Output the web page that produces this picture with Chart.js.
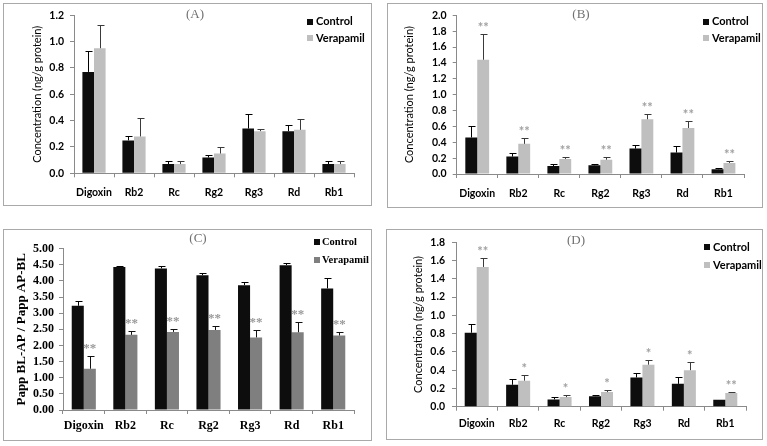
<!DOCTYPE html>
<html><head><meta charset="utf-8">
<script src="https://cdn.jsdelivr.net/npm/chart.js@4.4.1/dist/chart.umd.min.js"></script>
<style>
html,body{margin:0;padding:0;background:#fff;}
body{width:767px;height:446px;overflow:hidden;position:relative;}
.panel{position:absolute;border:1px solid #a9a9a9;box-sizing:border-box;}
.panel canvas{position:absolute;left:-1px;top:-1px;}
</style></head><body>
<div class="panel" style="left:3px;top:3px;width:369px;height:203px"><canvas id="cA" width="369" height="203"></canvas></div>
<div class="panel" style="left:387px;top:3px;width:376px;height:205px"><canvas id="cB" width="376" height="205"></canvas></div>
<div class="panel" style="left:3px;top:229px;width:369px;height:212px"><canvas id="cC" width="369" height="212"></canvas></div>
<div class="panel" style="left:386px;top:229px;width:377px;height:211px"><canvas id="cD" width="377" height="211"></canvas></div>
<script>
// ---------- data ----------
const categories = ['Digoxin','Rb2','Rc','Rg2','Rg3','Rd','Rb1'];
const seriesNames = ['Control','Verapamil'];

// (A)
const controlA      = [0.77, 0.25, 0.07, 0.12, 0.34, 0.32, 0.07];
const controlErrA   = [0.16, 0.03, 0.02, 0.02, 0.11, 0.05, 0.02];
const verapamilA    = [0.95, 0.28, 0.07, 0.15, 0.32, 0.33, 0.07];
const verapamilErrA = [0.18, 0.14, 0.02, 0.05, 0.02, 0.08, 0.02];
const starsA        = ['', '', '', '', '', '', ''];

// (B)
const controlB      = [0.46, 0.22, 0.10, 0.11, 0.32, 0.27, 0.06];
const controlErrB   = [0.15, 0.05, 0.02, 0.01, 0.05, 0.08, 0.01];
const verapamilB    = [1.44, 0.38, 0.19, 0.18, 0.69, 0.58, 0.14];
const verapamilErrB = [0.33, 0.07, 0.02, 0.03, 0.06, 0.09, 0.02];
const starsB        = ['**', '**', '**', '**', '**', '**', '**'];

// (C)
const controlC      = [3.23, 4.43, 4.39, 4.18, 3.87, 4.49, 3.77];
const controlErrC   = [0.14, 0.04, 0.08, 0.06, 0.11, 0.08, 0.32];
const verapamilC    = [1.28, 2.33, 2.42, 2.48, 2.25, 2.41, 2.31];
const verapamilErrC = [0.39, 0.11, 0.10, 0.13, 0.22, 0.33, 0.10];
const starsC        = ['**', '**', '**', '**', '**', '**', '**'];

// (D)
const controlD      = [0.81, 0.24, 0.08, 0.115, 0.32, 0.25, 0.075];
const controlErrD   = [0.10, 0.06, 0.025, 0.015, 0.05, 0.07, 0.0];
const verapamilD    = [1.53, 0.285, 0.105, 0.16, 0.46, 0.40, 0.15];
const verapamilErrD = [0.095, 0.065, 0.02, 0.02, 0.05, 0.085, 0.012];
const starsD        = ['**', '*', '*', '*', '*', '*', '**'];

// axis ranges / tick labels
const yAxisA = {max: 1.2, step: 0.2, decimals: 1, title: 'Concentration (ng/g protein)'};
const yAxisB = {max: 2.0, step: 0.2, decimals: 1, title: 'Concentration (ng/g protein)'};
const yAxisC = {max: 5.0, step: 0.5, decimals: 2, title: 'Papp BL-AP / Papp AP-BL'};
const yAxisD = {max: 1.8, step: 0.2, decimals: 1, title: 'Concentration (ng/g protein)'};
const panelTitles = ['(A)', '(B)', '(C)', '(D)'];

// ---------- drawing ----------
Chart.defaults.devicePixelRatio = 1;

const extrasPlugin = {
  id: 'extras',
  afterDatasetsDraw(chart) {
    const o = chart.options.plugins.extras;
    const ctx = chart.ctx, ys = chart.scales.y;
    ctx.save();
    chart.data.datasets.forEach((ds, i) => {
      const meta = chart.getDatasetMeta(i);
      meta.data.forEach((bar, j) => {
        const v = ds.data[j], e = ds.errors[j];
        const yt = Math.round(ys.getPixelForValue(v + e)) + 0.5;
        const x = Math.round(bar.x) + 0.5;
        if (e > 0) {
          ctx.strokeStyle = ds.errColor;
          ctx.lineWidth = 1;
          ctx.beginPath();
          ctx.moveTo(x, bar.y);
          ctx.lineTo(x, yt);
          ctx.moveTo(x - o.cap, yt);
          ctx.lineTo(x + o.cap + 1, yt);
          ctx.stroke();
        }
        if (ds.stars && ds.stars[j]) {
          ctx.fillStyle = o.starColor;
          ctx.font = o.starFont;
          ctx.textAlign = 'center';
          ctx.textBaseline = 'alphabetic';
          ctx.fillText(ds.stars[j], bar.x, yt - o.starGap);
        }
      });
    });
    ctx.restore();
  },
  afterDraw(chart) {
    const o = chart.options.plugins.extras;
    const ctx = chart.ctx;
    ctx.save();
    // panel title
    ctx.fillStyle = o.titleColor;
    ctx.font = o.titleFont;
    ctx.textAlign = 'center';
    ctx.textBaseline = 'middle';
    ctx.fillText(o.title, o.titleX, o.titleY);
    // legend
    ctx.font = o.legendFont;
    ctx.textAlign = 'left';
    chart.data.datasets.forEach((ds, i) => {
      const y = o.legendY + i * o.legendStep;
      ctx.fillStyle = ds.backgroundColor;
      ctx.fillRect(o.legendX, Math.round(y - o.legendBox / 2), o.legendBox, o.legendBox);
      ctx.fillStyle = '#000';
      ctx.fillText(ds.label, o.legendX + o.legendBox + o.legendGap, y);
    });
    ctx.restore();
  }
};

function makePanel(id, s, ctrl, ctrlErr, ver, verErr, stars, yAxis, title) {
  const canvas = document.getElementById(id);
  const W = canvas.width, H = canvas.height;
  const axisColor = '#8a8a8a';
  return new Chart(canvas, {
    type: 'bar',
    data: {
      labels: categories,
      datasets: [
        {label: seriesNames[0], data: ctrl, errors: ctrlErr, backgroundColor: s.ctrlColor,
         errColor: s.ctrlErrColor, barPercentage: 1.0, categoryPercentage: s.catPct},
        {label: seriesNames[1], data: ver, errors: verErr, stars: stars, backgroundColor: s.verColor,
         errColor: s.verErrColor, barPercentage: 1.0, categoryPercentage: s.catPct}
      ]
    },
    options: {
      responsive: false,
      animation: false,
      devicePixelRatio: 1,
      layout: {padding: {left: 0, top: s.T, right: W - s.R, bottom: 0}},
      plugins: {
        legend: {display: false},
        tooltip: {enabled: false},
        extras: {
          cap: 3, starColor: s.starColor, starFont: s.starFont, starGap: s.starGap,
          title: title, titleX: s.titleX, titleY: s.titleY, titleColor: '#707070', titleFont: s.titleFont,
          legendX: s.legX, legendY: s.legY, legendStep: s.legStep, legendBox: s.legBox, legendGap: s.legGap,
          legendFont: s.legendFont
        }
      },
      scales: {
        x: {
          afterFit: sc => { sc.height = H - s.B; },
          grid: {display: true, drawOnChartArea: false, drawTicks: true, tickLength: 4, color: axisColor, offset: true},
          border: {display: true, color: axisColor, width: 1},
          ticks: {color: '#000', font: s.tickFont, padding: s.xPad, maxRotation: 0, autoSkip: false}
        },
        y: {
          min: 0, max: yAxis.max,
          afterFit: sc => { sc.width = s.L; },
          grid: {display: true, drawOnChartArea: false, drawTicks: true, tickLength: 4, color: axisColor},
          border: {display: true, color: axisColor, width: 1},
          ticks: {stepSize: yAxis.step, autoSkip: false, color: '#000', font: s.tickFont, padding: s.yPad,
                  callback: v => Number(v).toFixed(yAxis.decimals)},
          title: {display: true, text: yAxis.title, color: '#000', font: s.yTitleFont,
                  padding: {top: s.yTitlePad, bottom: 0}}
        }
      }
    },
    plugins: [extrasPlugin]
  });
}

const sans = "Lato, 'Open Sans', sans-serif";
const serif = "'Liberation Serif', 'DejaVu Serif', serif";
const baseStyle = {
  ctrlColor: '#0d0d0d', verColor: '#bfbfbf', ctrlErrColor: '#000', verErrColor: '#3a3a3a',
  catPct: 0.58, starColor: '#a0a0a0', starFont: 'bold 13px ' + sans, starGap: 3,
  tickFont: {family: sans, size: 10.5, weight: 'bold'},
  yTitleFont: {family: sans, size: 11, weight: 'normal'},
  titleFont: '13px ' + serif,
  legendFont: 'bold 11px ' + sans, legBox: 6, legGap: 3, legStep: 16.6
};

makePanel('cA', Object.assign({}, baseStyle, {
  L: 71, T: 11, R: 351, B: 170.3, xPad: 9, yPad: 6, yTitlePad: 28,
  titleX: 192, titleY: 12, legX: 304, legY: 18.7
}), controlA, controlErrA, verapamilA, verapamilErrA, starsA, yAxisA, panelTitles[0]);

makePanel('cB', Object.assign({}, baseStyle, {
  L: 69.7, T: 11, R: 357, B: 171, xPad: 9, yPad: 6, yTitlePad: 16,
  titleX: 194, titleY: 12, legX: 316, legY: 18.7
}), controlB, controlErrB, verapamilB, verapamilErrB, starsB, yAxisB, panelTitles[1]);

makePanel('cC', Object.assign({}, baseStyle, {
  L: 60, T: 19.7, R: 351, B: 181, xPad: 5, yPad: 5, yTitlePad: 10.5,
  verColor: '#7f7f7f', verErrColor: '#111', starColor: '#999', starFont: 'bold 13px ' + serif, starGap: 5,
  tickFont: {family: serif, size: 12, weight: 'bold'},
  yTitleFont: {family: serif, size: 13, weight: 'bold'},
  legendFont: 'bold 10.5px ' + serif, legBox: 6, legGap: 2, legStep: 18.3,
  titleX: 195, titleY: 10, legX: 311, legY: 13
}), controlC, controlErrC, verapamilC, verapamilErrC, starsC, yAxisC, panelTitles[2]);

makePanel('cD', Object.assign({}, baseStyle, {
  L: 70, T: 11.3, R: 360, B: 177.7, xPad: 7, yPad: 7, yTitlePad: 26,
  titleX: 190, titleY: 12, legX: 318, legY: 18.3, legStep: 18
}), controlD, controlErrD, verapamilD, verapamilErrD, starsD, yAxisD, panelTitles[3]);
</script>
</body></html>
